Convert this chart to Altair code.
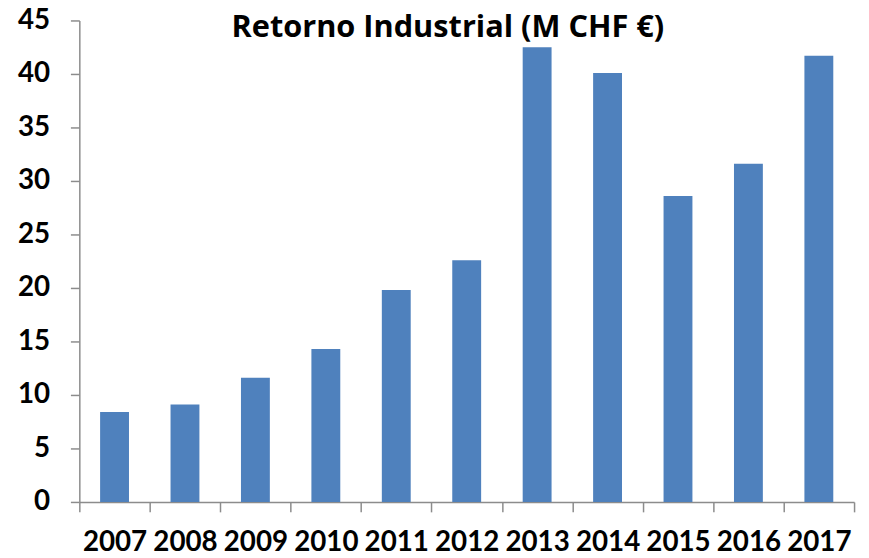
import altair as alt
import pandas as pd

years = ["2007", "2008", "2009", "2010", "2011", "2012", "2013", "2014", "2015", "2016", "2017"]
values = [8.4, 9.1, 11.6, 14.3, 19.8, 22.6, 42.5, 40.1, 28.6, 31.6, 41.7]
title_text = "Retorno Industrial (M CHF €)"

df = pd.DataFrame({"year": years, "value": values})

FONT = "Lato"
AXIS_COLOR = "#8c8c8c"

base = alt.Chart(df)

bars = base.mark_bar(color="#4F81BD", width=alt.RelativeBandSize(0.41)).encode(
    x=alt.X(
        "year:N",
        sort=years,
        scale=alt.Scale(paddingInner=0, paddingOuter=0),
        axis=alt.Axis(
            title=None,
            labelAngle=0,
            labelFont=FONT,
            labelFontSize=28,
            labelFontWeight="bold",
            labelColor="black",
            labelPadding=17,
            tickBand="extent",
            tickSize=10,
            tickColor=AXIS_COLOR,
            tickWidth=1.5,
            domainColor=AXIS_COLOR,
            domainWidth=1.5,
            labelOverlap=False,
        ),
    ),
    y=alt.Y(
        "value:Q",
        scale=alt.Scale(domain=[0, 45], nice=False),
        axis=alt.Axis(
            title=None,
            values=list(range(0, 50, 5)),
            grid=False,
            labelFont=FONT,
            labelFontSize=28,
            labelFontWeight="bold",
            labelColor="black",
            labelPadding=21,
            tickSize=9,
            tickColor=AXIS_COLOR,
            tickWidth=1.5,
            domainColor=AXIS_COLOR,
            domainWidth=1.5,
        ),
    ),
)

title = alt.Chart(pd.DataFrame({"t": [title_text]})).mark_text(
    font="Open Sans", fontSize=31, fontWeight="bold", color="black",
    align="center", baseline="alphabetic",
).encode(
    text="t:N",
    x=alt.value(372),
    y=alt.value(17),
)

chart = alt.layer(bars, title).properties(
    width=782,
    height=486,
    autosize=alt.AutoSizeParams(type="none"),
    padding={"left": 72, "top": 10, "right": 7, "bottom": 54},
).configure_view(stroke=None)

chart.save("out.html", embed_options={"renderer": "svg", "actions": False})
